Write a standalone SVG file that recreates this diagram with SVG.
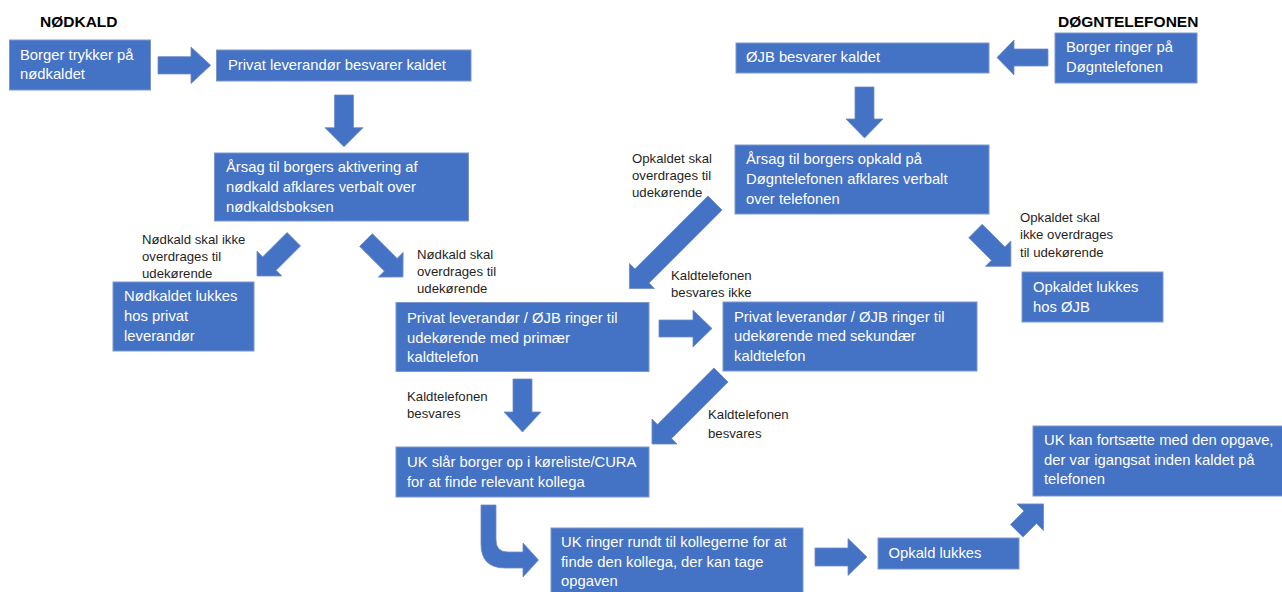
<svg xmlns="http://www.w3.org/2000/svg" width="1282" height="592" viewBox="0 0 1282 592">
<style>
.box{fill:#4472C4;stroke:#7d97cc;stroke-width:1}
.arr{fill:#4472C4;stroke:#6f8cc8;stroke-width:0.8}
.bt{font-family:"Liberation Sans",Arial,sans-serif;font-size:14.8px;fill:#ffffff}
.lb{font-family:"Liberation Sans",Arial,sans-serif;font-size:13.2px;fill:#1f1f1f}
.ti{font-family:"Liberation Sans",Arial,sans-serif;font-size:15.5px;font-weight:bold;fill:#000000}
</style>
<rect width="1282" height="592" fill="#ffffff"/>
<text class="ti" x="40" y="27">NØDKALD</text>
<text class="ti" x="1058" y="27">DØGNTELEFONEN</text>
<g id="connectors">
<path class="arr" transform="translate(158,65.3)" d="M0,-8.65 H33 V-18.3 L52.7,0 L33,18.3 V8.65 H0 Z"/>
<path class="arr" transform="translate(344,95) rotate(90)" d="M0,-9.5 H32.7 V-19 L51.7,0 L32.7,19 V9.5 H0 Z"/>
<path class="arr" transform="translate(293.8,239.2) rotate(135)" d="M0,-9.5 H34.5 V-17.5 L52,0 L34.5,17.5 V9.5 H0 Z"/>
<path class="arr" transform="translate(366,240) rotate(45)" d="M0,-9 H35 V-17.5 L52.3,0 L35,17.5 V9 H0 Z"/>
<path class="arr" transform="translate(715,203) rotate(135)" d="M0,-10 H103.3 V-17.7 L121,0 L103.3,17.7 V10 H0 Z"/>
<path class="arr" transform="translate(975.5,231) rotate(45)" d="M0,-9.5 H32 V-18 L50,0 L32,18 V9.5 H0 Z"/>
<path class="arr" transform="translate(659,328.5)" d="M0,-8.5 H34 V-18.5 L53,0 L34,18.5 V8.5 H0 Z"/>
<path class="arr" transform="translate(522.5,379) rotate(90)" d="M0,-9.5 H33 V-18.5 L53,0 L33,18.5 V9.5 H0 Z"/>
<path class="arr" transform="translate(721,375) rotate(135)" d="M0,-10 H79.9 V-17.7 L97.6,0 L79.9,17.7 V10 H0 Z"/>
<path class="arr" d="M481,505 H496 V540 Q496,552 508,552 H523 V543 L538.5,560 L523,577 V568 H505 Q481,568 481,544 Z"/>
<path class="arr" transform="translate(815,557)" d="M0,-9 H33 V-18.5 L52,0 L33,18.5 V9 H0 Z"/>
<path class="arr" transform="translate(1016.7,530.8) rotate(-45)" d="M0,-8.85 H19.1 V-18.85 L38,0 L19.1,18.85 V8.85 H0 Z"/>
<path class="arr" transform="translate(1048,57.5) rotate(180)" d="M0,-8.5 H34 V-17.5 L51,0 L34,17.5 V8.5 H0 Z"/>
<path class="arr" transform="translate(864.5,87) rotate(90)" d="M0,-9.5 H32 V-18.5 L51,0 L32,18.5 V9.5 H0 Z"/>
</g>
<g id="n1"><rect class="box" x="9.5" y="40" width="141" height="50"/><text class="bt" x="20" y="59.5">Borger trykker på</text><text class="bt" x="20" y="79">nødkaldet</text></g>
<g id="n2"><rect class="box" x="216.5" y="50" width="254.5" height="31"/><text class="bt" x="228" y="69.5">Privat leverandør besvarer kaldet</text></g>
<g id="n3"><rect class="box" x="214.5" y="153" width="254" height="68"/><text class="bt" x="226" y="172">Årsag til borgers aktivering af</text><text class="bt" x="226" y="192">nødkald afklares verbalt over</text><text class="bt" x="226" y="212">nødkaldsboksen</text></g>
<g id="n4"><rect class="box" x="113" y="282" width="141" height="69"/><text class="bt" x="124" y="301">Nødkaldet lukkes</text><text class="bt" x="124" y="321">hos privat</text><text class="bt" x="124" y="341">leverandør</text></g>
<g id="n5"><rect class="box" x="396" y="302.5" width="253" height="69"/><text class="bt" x="407" y="322.5">Privat leverandør / ØJB ringer til</text><text class="bt" x="407" y="342.5">udekørende med primær</text><text class="bt" x="407" y="362">kaldtelefon</text></g>
<g id="n6"><rect class="box" x="723" y="302" width="254" height="69"/><text class="bt" x="734" y="321.7">Privat leverandør / ØJB ringer til</text><text class="bt" x="734" y="341">udekørende med sekundær</text><text class="bt" x="734" y="360.5">kaldtelefon</text></g>
<g id="n7"><rect class="box" x="396" y="447" width="253" height="50"/><text class="bt" x="407" y="467">UK slår borger op i køreliste/CURA</text><text class="bt" x="407" y="486.7">for at finde relevant kollega</text></g>
<g id="n8"><rect class="box" x="551" y="528" width="252" height="69"/><text class="bt" x="561" y="546.7">UK ringer rundt til kollegerne for at</text><text class="bt" x="561" y="566.5">finde den kollega, der kan tage</text><text class="bt" x="561" y="586">opgaven</text></g>
<g id="n9"><rect class="box" x="878" y="538" width="141" height="31"/><text class="bt" x="888.5" y="558">Opkald lukkes</text></g>
<g id="n10"><rect class="box" x="1033" y="426" width="260" height="70"/><text class="bt" x="1044" y="445">UK kan fortsætte med den opgave,</text><text class="bt" x="1044" y="464.5">der var igangsat inden kaldet på</text><text class="bt" x="1044" y="484">telefonen</text></g>
<g id="n11"><rect class="box" x="736" y="43" width="253" height="30"/><text class="bt" x="746" y="62">ØJB besvarer kaldet</text></g>
<g id="n12"><rect class="box" x="1055" y="33" width="142" height="50"/><text class="bt" x="1066" y="52.3">Borger ringer på</text><text class="bt" x="1066" y="72">Døgntelefonen</text></g>
<g id="n13"><rect class="box" x="735" y="145" width="254" height="69"/><text class="bt" x="746" y="164">Årsag til borgers opkald på</text><text class="bt" x="746" y="184">Døgntelefonen afklares verbalt</text><text class="bt" x="746" y="204">over telefonen</text></g>
<g id="n14"><rect class="box" x="1022" y="272" width="141" height="50"/><text class="bt" x="1033" y="292">Opkaldet lukkes</text><text class="bt" x="1033" y="311.7">hos ØJB</text></g>
<g id="labels">
<text class="lb" x="142" y="244">Nødkald skal ikke</text><text class="lb" x="142" y="261">overdrages til</text><text class="lb" x="142" y="278">udekørende</text>
<text class="lb" x="417" y="259">Nødkald skal</text><text class="lb" x="417" y="276">overdrages til</text><text class="lb" x="417" y="293">udekørende</text>
<text class="lb" x="632" y="163">Opkaldet skal</text><text class="lb" x="632" y="180">overdrages til</text><text class="lb" x="632" y="197">udekørende</text>
<text class="lb" x="671" y="279.5">Kaldtelefonen</text><text class="lb" x="671" y="297">besvares ikke</text>
<text class="lb" x="1020" y="221.7">Opkaldet skal</text><text class="lb" x="1020" y="239">ikke overdrages</text><text class="lb" x="1020" y="256.7">til udekørende</text>
<text class="lb" x="407" y="400.7">Kaldtelefonen</text><text class="lb" x="407" y="417.7">besvares</text>
<text class="lb" x="708" y="419.3">Kaldtelefonen</text><text class="lb" x="708" y="437.7">besvares</text>
</g>
</svg>
